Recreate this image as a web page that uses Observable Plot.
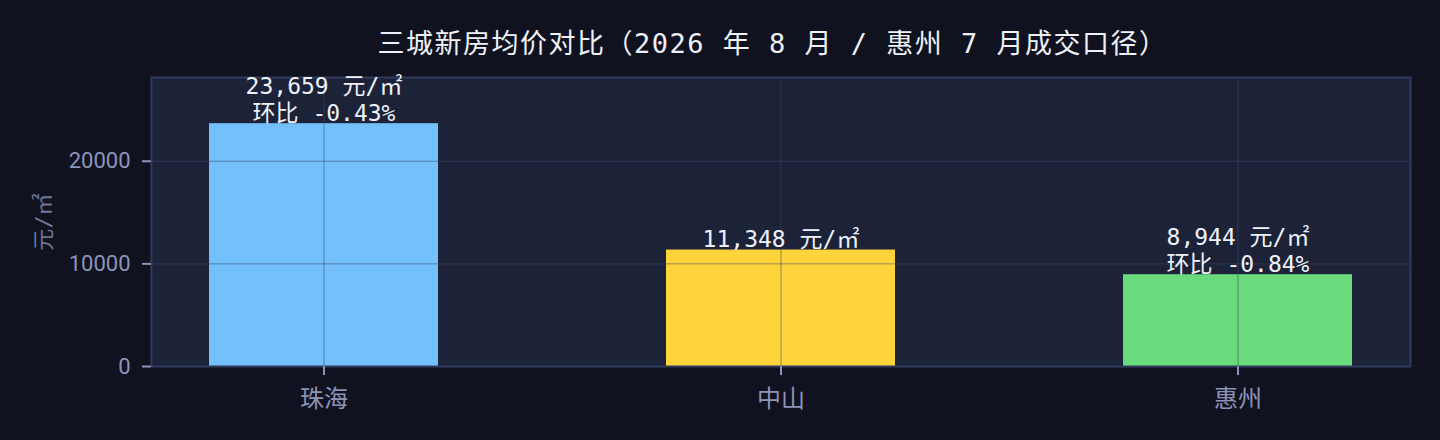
<!DOCTYPE html>
<html><head><meta charset="utf-8">
<script src="https://cdn.jsdelivr.net/npm/d3@7"></script>
<script src="https://cdn.jsdelivr.net/npm/@observablehq/plot@0.6"></script>
<style>
html,body{margin:0;padding:0;background:#10131f;width:1440px;height:440px;overflow:hidden;}
#title{height:62px;box-sizing:border-box;padding:29px 46px 0 151px;text-align:center;color:#eef1f8;font:27px "DejaVu Sans Mono","Noto Sans CJK SC",sans-serif;letter-spacing:1.5px;line-height:30px;white-space:pre;}
</style></head>
<body>
<div id="title">三城新房均价对比（2026 年 8 月 / 惠州 7 月成交口径）</div>
<div id="chart"></div>
<script>
const cities = ["珠海", "中山", "惠州"];
const prices = [23659, 11348, 8944];
const momChange = ["-0.43%", null, "-0.84%"];
const barColors = ["#74c0fc", "#ffd43b", "#69db7c"];
const yTicks = [0, 10000, 20000];
const unit = "元/㎡";

const data = cities.map((c, i) => ({
  city: c, price: prices[i], color: barColors[i],
  label: d3.format(",")(prices[i]) + " " + unit + (momChange[i] ? "\n环比 " + momChange[i] : "")
}));

const mono = '"DejaVu Sans Mono", "Noto Sans CJK SC", sans-serif';
const sans = 'Roboto, "Noto Sans CJK SC", sans-serif';
const chart = Plot.plot({
  width: 1440, height: 378,
  marginTop: 15, marginBottom: 74, marginLeft: 151, marginRight: 30,
  style: {background: "transparent", fontFamily: sans, color: "#8d93b8"},
  x: {domain: cities, paddingInner: 0.5, paddingOuter: 0.125, label: null},
  y: {domain: [0, 28160], ticks: yTicks, tickFormat: d => String(d), label: null},
  marks: [
    Plot.frame({fill: "#1c2338"}),
    Plot.barY(data, {x: "city", y: "price", fill: "color"}),
    Plot.gridY(yTicks.slice(1), {stroke: "#3a4868", strokeOpacity: 0.55, strokeWidth: 1}),
    Plot.gridX(cities, {stroke: "#3a4868", strokeOpacity: 0.55, strokeWidth: 1}),
    Plot.frame({stroke: "#2f3a5e", strokeWidth: 2}),
    Plot.axisY({ticks: yTicks, tickFormat: d => String(d), tickSize: 9, tickPadding: 12, fontSize: 22, stroke: "#8d93b8", strokeWidth: 2, fill: "#8d93b8", label: null}),
    Plot.axisX({tickSize: 9, tickPadding: 14, fontSize: 24, fontFamily: '"Noto Sans CJK SC", sans-serif', stroke: "#8d93b8", strokeWidth: 2, fill: "#8d93b8", label: null}),
    Plot.text(data, {x: "city", y: "price", text: "label", lineAnchor: "bottom", dy: -3, fontSize: 23, fontFamily: mono, fill: "#eef1f8", lineHeight: 1.18}),
    Plot.text([unit], {frameAnchor: "left", textAnchor: "middle", dx: -108, rotate: -90, fontSize: 22, fontFamily: mono, fill: "#6f7598", text: d => d})
  ]
});
document.getElementById("chart").appendChild(chart);
</script>
</body></html>
